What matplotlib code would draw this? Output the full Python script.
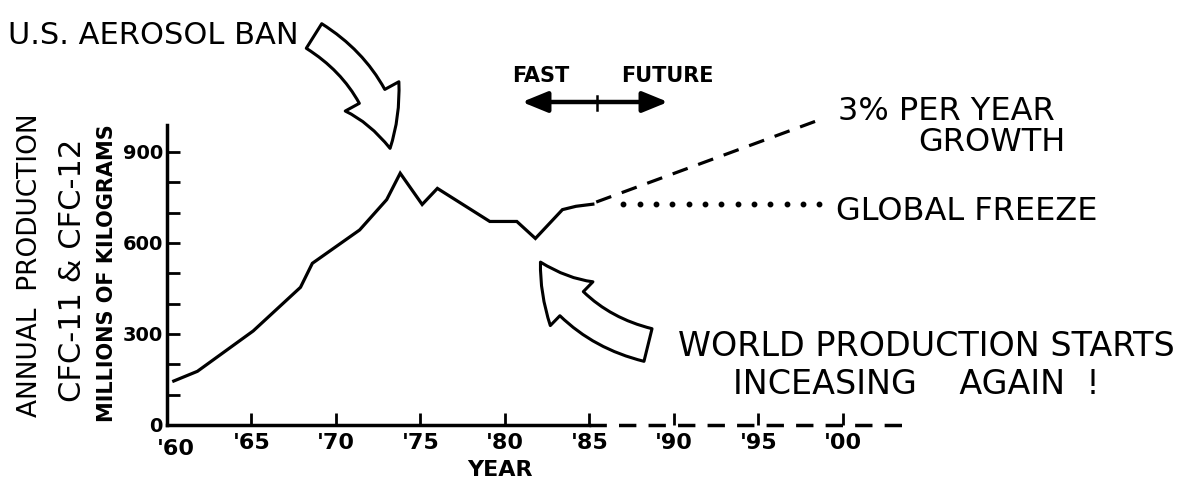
import matplotlib
matplotlib.use("Agg")
import matplotlib.pyplot as plt
from matplotlib.ticker import MultipleLocator

# ── Data ─────────────────────────────────────────────────────────
years = [1960.4, 1961.8, 1965.1, 1967.9, 1968.6, 1971.4, 1973.0, 1973.8,
         1975.1, 1976.0, 1979.1, 1980.7, 1981.8, 1983.4, 1984.2, 1985.2]
production = [145, 177, 310, 454, 533, 643, 743, 830,
              727, 780, 671, 671, 615, 710, 721, 728]

growth_years = [1985.4, 1998.8]
growth_values = [735, 1010]

freeze_years = [1987.0, 1998.6]
freeze_value = 730

future_years = [1985, 2004.1]

xticks = [1965, 1970, 1975, 1980, 1985, 1990, 1995, 2000]
xlabels = ["'65", "'70", "'75", "'80", "'85", "'90", "'95", "'00"]
yticks = [0, 300, 600, 900]
ylabels = ["0", "300", "600", "900"]

W, H = 1201, 496
plt.rcParams["font.family"] = "DejaVu Sans"


def fp(x, y):
    """pixel (from top-left) -> figure fraction"""
    return (x / W, 1 - y / H)


fig = plt.figure(figsize=(W / 100, H / 100), dpi=100)
ax = fig.add_axes([167 / W, (H - 425) / H, (930 - 167) / W, 300 / H])
ax.set_xlim(1960, 2005.15)
ax.set_ylim(0, 989)

# ── main curve + projections
ax.plot(years, production, color="black", lw=2.3, solid_joinstyle="miter")
ax.plot(growth_years, growth_values, color="black", lw=2.3,
        linestyle=(0, (5, 3.5)), clip_on=False)
n_dots = 13
fx = [freeze_years[0] + i * (freeze_years[1] - freeze_years[0]) / (n_dots - 1)
      for i in range(n_dots)]
ax.plot(fx, [freeze_value] * n_dots, "o", color="black", ms=3.2,
        clip_on=False)

# ── axes look
for s in ["top", "right"]:
    ax.spines[s].set_visible(False)
ax.spines["left"].set_linewidth(2.5)
ax.spines["bottom"].set_linewidth(2.5)
ax.spines["bottom"].set_bounds(1960, 1985)
ax.plot(future_years, [0, 0], color="black", lw=2.5,
        linestyle=(0, (5, 3.5)), clip_on=False)

ax.set_yticks(yticks)
ax.set_yticklabels(ylabels, fontsize=14, fontweight="bold")
ax.yaxis.set_minor_locator(MultipleLocator(100))
ax.tick_params(axis="y", which="both", direction="in", length=9, width=2,
               pad=3)
ax.set_xticks(xticks)
ax.set_xticklabels(xlabels, fontsize=16, fontweight="bold")
ax.tick_params(axis="x", which="major", direction="in", length=9,
               width=2, pad=6)
ax.text(1960.5, -80, "'60", fontsize=16, fontweight="bold",
        ha="center", va="center")
ax.set_xlabel("YEAR", fontsize=16, fontweight="bold", labelpad=5,
              x=(1979.7 - 1960) / 45.15)

# ── y-axis labels
fig.text(*fp(30, 265), "ANNUAL  PRODUCTION", rotation=90, fontsize=19,
         ha="center", va="center")
fig.text(*fp(73, 270), "CFC-11 & CFC-12", rotation=90, fontsize=22,
         ha="center", va="center")
fig.text(*fp(107, 273), "MILLIONS OF KILOGRAMS", rotation=90, fontsize=15,
         fontweight="bold", ha="center", va="center")

# ── annotations
fig.text(*fp(8, 35), "U.S. AEROSOL BAN", fontsize=22, ha="left",
         va="center")
ax.annotate("", xy=(1973.2, 912), xycoords="data",
            xytext=fp(314, 36), textcoords="figure fraction",
            annotation_clip=False,
            arrowprops=dict(arrowstyle="simple,head_length=1.8,head_width=2.0,"
                                       "tail_width=0.95",
                            connectionstyle="arc3,rad=-0.22",
                            fc="white", ec="black", lw=2.2,
                            mutation_scale=22, shrinkA=0, shrinkB=0))

fig.text(*fp(541, 76), "FAST", fontsize=15, fontweight="bold",
         ha="center", va="center")
fig.text(*fp(667, 76), "FUTURE", fontsize=15, fontweight="bold",
         ha="center", va="center")
ax.annotate("", xy=fp(522, 102), xycoords="figure fraction",
            xytext=fp(668, 102), textcoords="figure fraction",
            annotation_clip=False,
            arrowprops=dict(arrowstyle="<|-|>,head_length=1.1,head_width=0.45",
                            fc="black", ec="black", lw=3.2,
                            mutation_scale=14, shrinkA=0, shrinkB=0))
fig.add_artist(plt.Line2D([597 / W, 597 / W], [1 - 96 / H, 1 - 110 / H],
                          color="black", lw=1.8))

fig.text(*fp(838, 112), "3% PER YEAR", fontsize=23, ha="left",
         va="center")
fig.text(*fp(918, 142), "GROWTH", fontsize=23, ha="left", va="center")
fig.text(*fp(836, 211), "GLOBAL FREEZE", fontsize=23, ha="left",
         va="center")

ax.annotate("", xy=(1982.1, 537), xycoords="data",
            xytext=fp(648, 345), textcoords="figure fraction",
            annotation_clip=False,
            arrowprops=dict(arrowstyle="simple,head_length=1.7,head_width=2.0,"
                                       "tail_width=1.1",
                            connectionstyle="arc3,rad=-0.22",
                            fc="white", ec="black", lw=2.2,
                            mutation_scale=22, shrinkA=0, shrinkB=0))

fig.text(*fp(678, 347), "WORLD PRODUCTION STARTS", fontsize=24,
         ha="left", va="center")
fig.text(*fp(733, 384), "INCEASING    AGAIN  !", fontsize=24, ha="left",
         va="center")

fig.savefig("out.png", dpi=100, facecolor="white")
